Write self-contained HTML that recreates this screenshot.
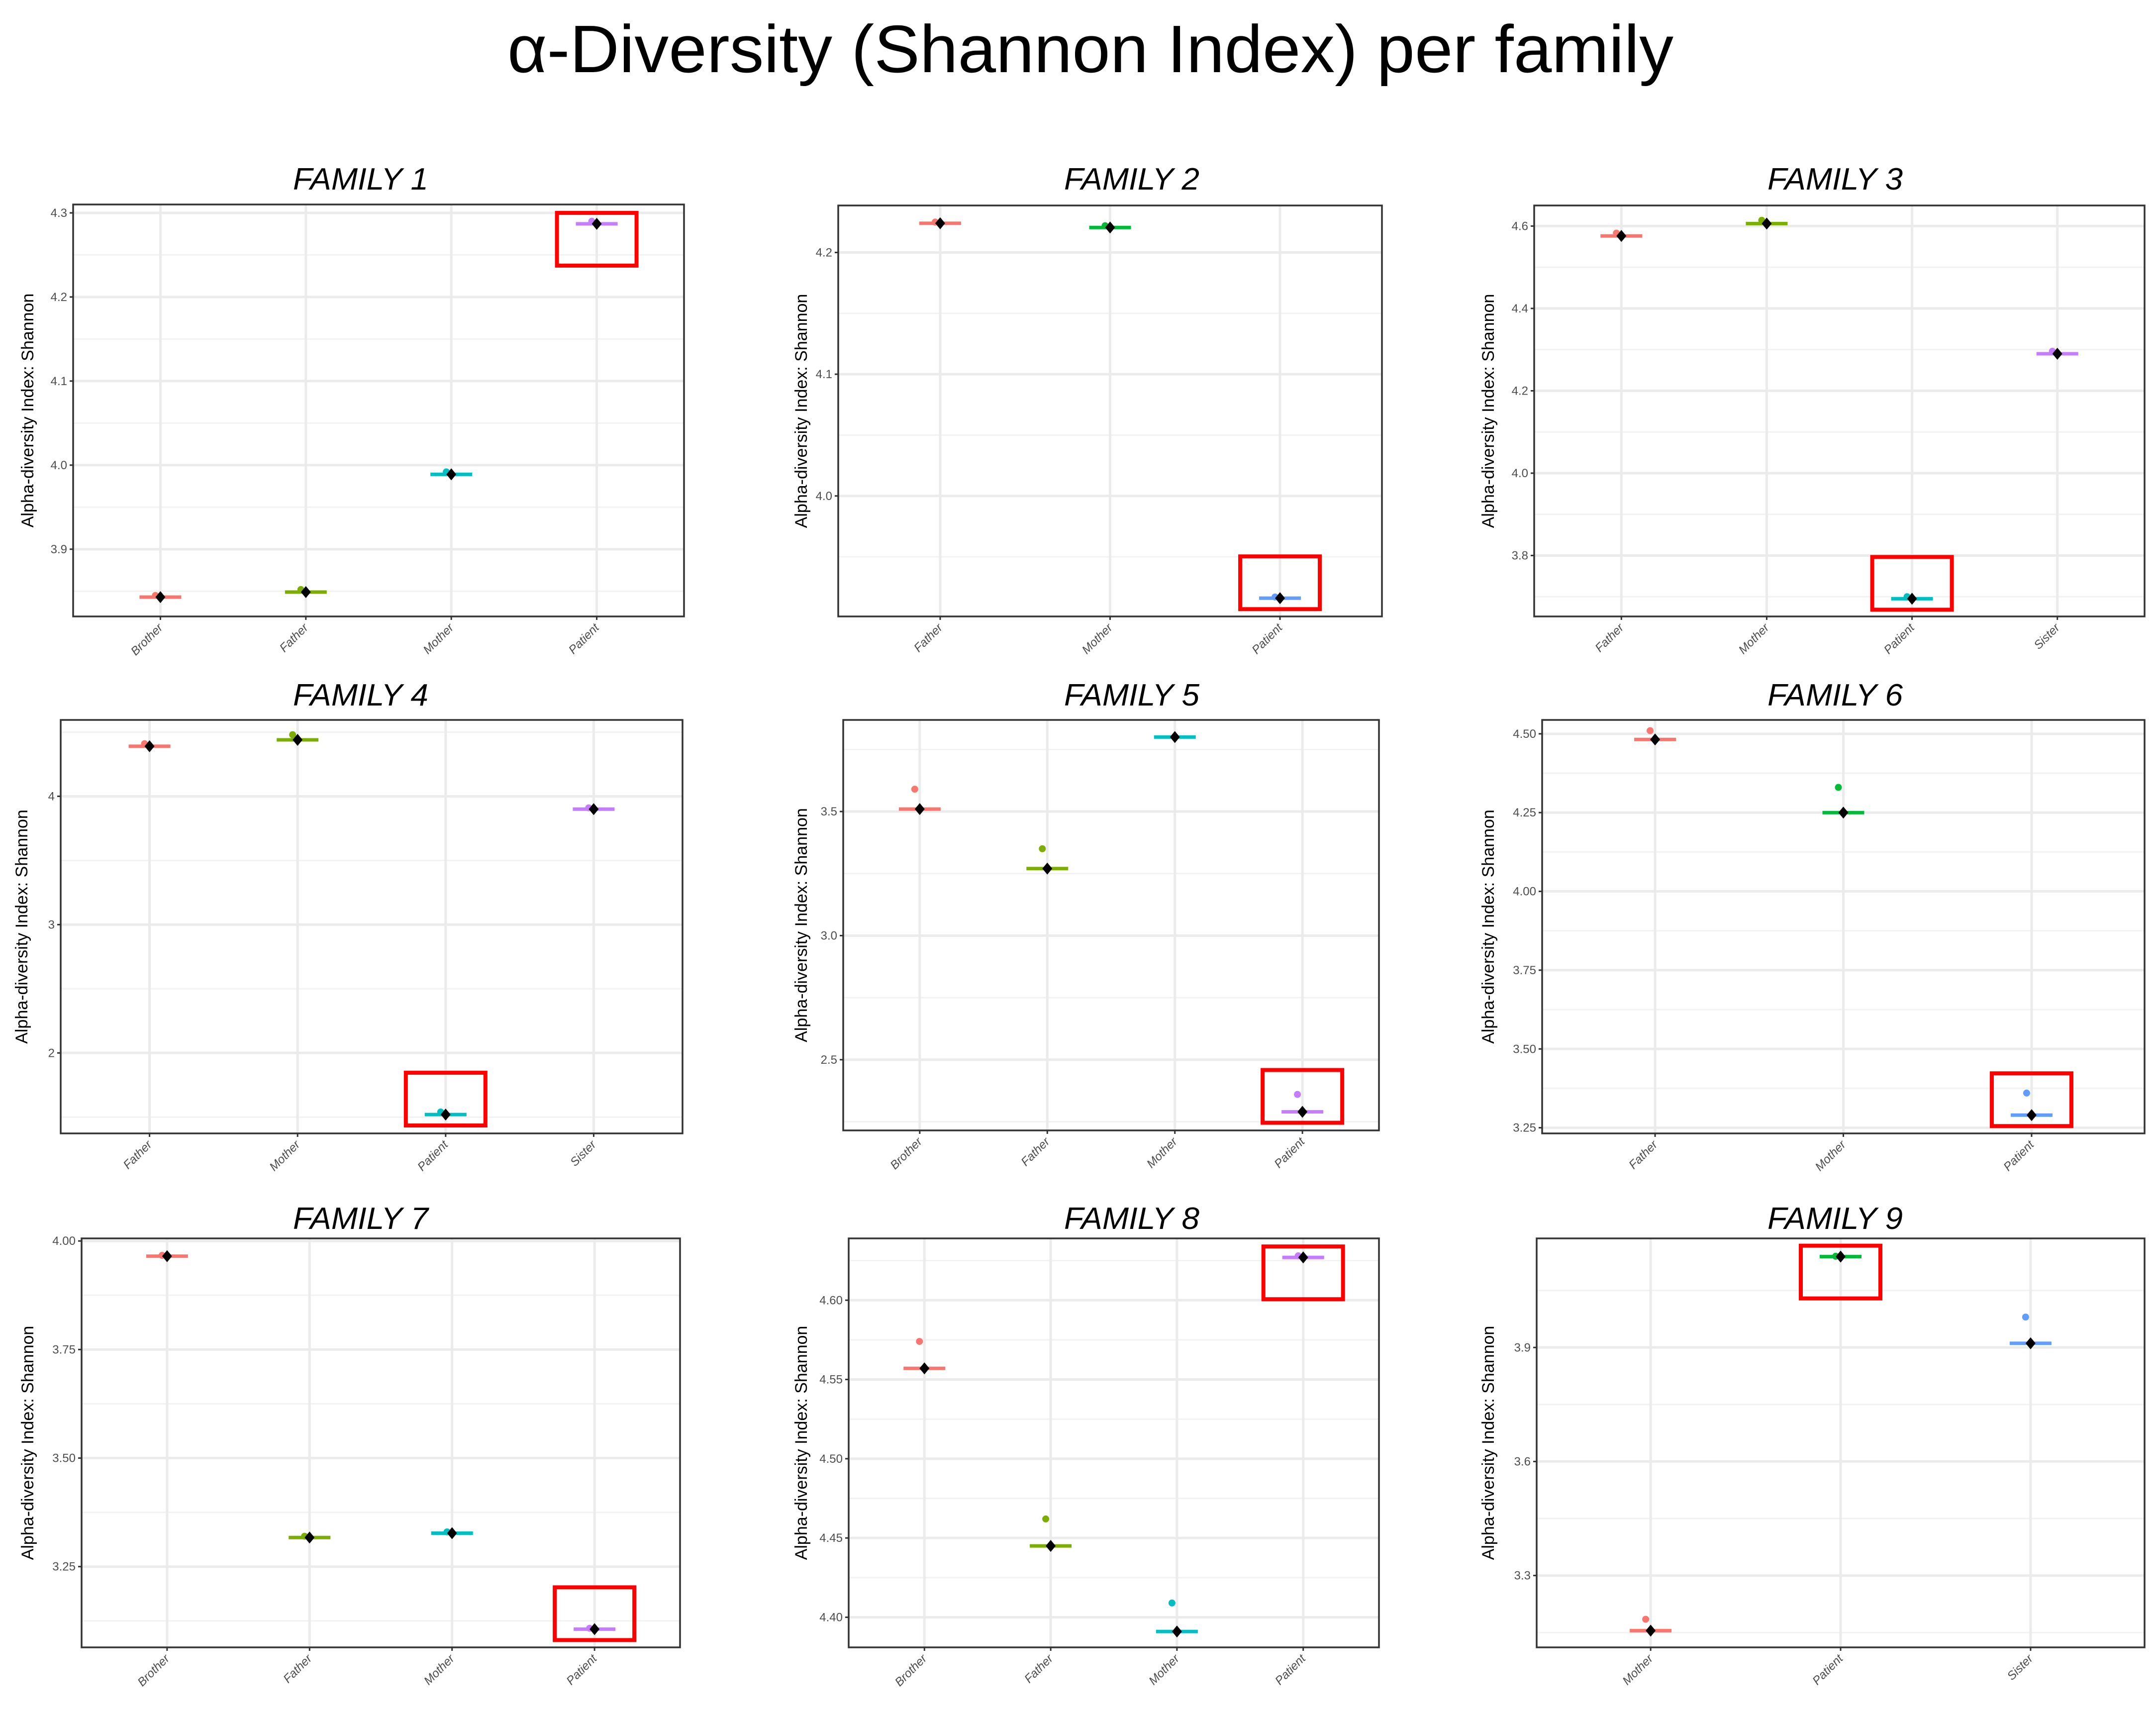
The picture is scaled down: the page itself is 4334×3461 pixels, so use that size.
<!DOCTYPE html>
<html><head><meta charset="utf-8">
<style>
html,body{margin:0;padding:0;background:#fff;}
svg{display:block;}
</style></head>
<body>
<svg id="fig" xmlns="http://www.w3.org/2000/svg" width="4334" height="3461" viewBox="0 0 4334 3461">
<rect x="0" y="0" width="4334" height="3461" fill="#fff"/>
<text x="2192" y="145" text-anchor="middle" font-family="Liberation Sans, sans-serif" font-size="135" textLength="2344" lengthAdjust="spacingAndGlyphs" fill="#000">α-Diversity (Shannon Index) per family</text>
<g id="panels"></g>
</svg>
<script>
// ---- data ----
const familyTitles = ["FAMILY 1","FAMILY 2","FAMILY 3","FAMILY 4","FAMILY 5","FAMILY 6","FAMILY 7","FAMILY 8","FAMILY 9"];
const cats1 = ["Brother","Father","Mother","Patient"];
const cats2 = ["Father","Mother","Patient"];
const cats3 = ["Father","Mother","Patient","Sister"];
const cats4 = ["Father","Mother","Patient","Sister"];
const cats5 = ["Brother","Father","Mother","Patient"];
const cats6 = ["Father","Mother","Patient"];
const cats7 = ["Brother","Father","Mother","Patient"];
const cats8 = ["Brother","Father","Mother","Patient"];
const cats9 = ["Mother","Patient","Sister"];
const means1 = [3.843, 3.849, 3.989, 4.287];
const means2 = [4.224, 4.2205, 3.916];
const means3 = [4.576, 4.606, 3.695, 4.29];
const means4 = [4.39, 4.44, 1.52, 3.90];
const means5 = [3.51, 3.27, 3.80, 2.29];
const means6 = [4.482, 4.25, 3.29];
const means7 = [3.965, 3.317, 3.327, 3.106];
const means8 = [4.557, 4.445, 4.391, 4.627];
const means9 = [3.155, 4.139, 3.911];
const points1 = [3.845, 3.852, 3.992, 4.29];
const points2 = [4.225, 4.222, 3.917];
const points3 = [4.583, 4.614, 3.70, 4.296];
const points4 = [4.41, 4.48, 1.54, 3.91];
const points5 = [3.59, 3.35, 3.88, 2.36];
const points6 = [4.51, 4.33, 3.36];
const points7 = [3.967, 3.32, 3.33, 3.108];
const points8 = [4.574, 4.462, 4.409, 4.628];
const points9 = [3.185, 4.14, 3.98];
const ticks1 = [3.9, 4.0, 4.1, 4.2, 4.3];
const ticks2 = [4.0, 4.1, 4.2];
const ticks3 = [3.8, 4.0, 4.2, 4.4, 4.6];
const ticks4 = [2, 3, 4];
const ticks5 = [2.5, 3.0, 3.5];
const ticks6 = [3.25, 3.50, 3.75, 4.00, 4.25, 4.50];
const ticks7 = [3.25, 3.50, 3.75, 4.00];
const ticks8 = [4.40, 4.45, 4.50, 4.55, 4.60];
const ticks9 = [3.3, 3.6, 3.9];
const tickLabels1 = ["3.9","4.0","4.1","4.2","4.3"];
const tickLabels2 = ["4.0","4.1","4.2"];
const tickLabels3 = ["3.8","4.0","4.2","4.4","4.6"];
const tickLabels4 = ["2","3","4"];
const tickLabels5 = ["2.5","3.0","3.5"];
const tickLabels6 = ["3.25","3.50","3.75","4.00","4.25","4.50"];
const tickLabels7 = ["3.25","3.50","3.75","4.00"];
const tickLabels8 = ["4.40","4.45","4.50","4.55","4.60"];
const tickLabels9 = ["3.3","3.6","3.9"];
const yDomain1 = [3.82, 4.31];
const yDomain2 = [3.901, 4.2386];
const yDomain3 = [3.652, 4.65];
const yDomain4 = [1.373, 4.595];
const yDomain5 = [2.215, 3.869];
const yDomain6 = [3.232, 4.544];
const yDomain7 = [3.064, 4.006];
const yDomain8 = [4.381, 4.639];
const yDomain9 = [3.111, 4.187];
const highlighted = ["Patient","Patient","Patient","Patient","Patient","Patient","Patient","Patient","Patient"];

// ---- layout ----
const panelRects = [
  [147,411,1375,1239],[1685,413,2778,1239],[3084,413,4311,1239],
  [122,1447,1372,2278],[1695,1447,2772,2272],[3100,1447,4311,2278],
  [164,2489,1367,3311],[1706,2489,2772,3311],[3089,2489,4311,3311]
];
const titleX = [725,2275,3689,725,2275,3689,725,2275,3689];
const titleY = [381,381,381,1418,1418,1418,2470,2470,2470];
const ylabX = [67,1622,3003,55,1622,3003,67,1622,3003];
const pal4 = ["#F8766D","#7CAE00","#00BFC4","#C77CFF"];
const pal3 = ["#F8766D","#00BA38","#619CFF"];

const allCats=[cats1,cats2,cats3,cats4,cats5,cats6,cats7,cats8,cats9];
const allMeans=[means1,means2,means3,means4,means5,means6,means7,means8,means9];
const allPts=[points1,points2,points3,points4,points5,points6,points7,points8,points9];
const allTicks=[ticks1,ticks2,ticks3,ticks4,ticks5,ticks6,ticks7,ticks8,ticks9];
const allTL=[tickLabels1,tickLabels2,tickLabels3,tickLabels4,tickLabels5,tickLabels6,tickLabels7,tickLabels8,tickLabels9];
const allDom=[yDomain1,yDomain2,yDomain3,yDomain4,yDomain5,yDomain6,yDomain7,yDomain8,yDomain9];

const NS="http://www.w3.org/2000/svg";
function mk(tag, attrs, parent){const e=document.createElementNS(NS,tag);for(const k in attrs)e.setAttribute(k,attrs[k]);parent.appendChild(e);return e;}
const root=document.getElementById('panels');

for(let p=0;p<9;p++){
  const [x0,y0,x1,y1]=panelRects[p];
  const cats=allCats[p], means=allMeans[p], pts=allPts[p], ticks=allTicks[p], tl=allTL[p], dom=allDom[p];
  const n=cats.length;
  const pal = n===4?pal4:pal3;
  const g=mk('g',{},root);
  
  
  const xScale=i=>x0+(x1-x0)*(i+0.6)/(n+0.2);
  const yScale=v=>y1-(v-dom[0])/(dom[1]-dom[0])*(y1-y0);
  // title
  const t=mk('text',{x:titleX[p],y:titleY[p],'text-anchor':'middle','font-family':'Liberation Sans, sans-serif','font-style':'italic','font-size':62,textLength:272,lengthAdjust:'spacingAndGlyphs',fill:'#000'},g);
  t.textContent=familyTitles[p];
  
  
  // minor grid
  for(let i=0;i<ticks.length+1;i++){
    const step = ticks.length>1?ticks[1]-ticks[0]:0.5;
    const mv = (i<ticks.length?ticks[i]:ticks[ticks.length-1]+step)-step/2;
    const yy=yScale(mv);
    if(yy>y0+2&&yy<y1-2){
      const l=mk('line',{x1:x0,x2:x1,y1:yy,y2:yy,stroke:'#f2f2f2','stroke-width':3},g);
      
      
    }
  }
  // major grid + ticks
  ticks.forEach((v,i)=>{
    const yy=yScale(v);
    const l=mk('line',{x1:x0,x2:x1,y1:yy,y2:yy,stroke:'#ebebeb','stroke-width':5},g);
    
    
    mk('line',{x1:x0-7,x2:x0,y1:yy,y2:yy,stroke:'#333','stroke-width':3},g);
    const tx=mk('text',{x:x0-12,y:yy+8,'text-anchor':'end','font-family':'Liberation Sans, sans-serif','font-size':24,fill:'#4d4d4d'},g);
    tx.textContent=tl[i];
    
    
  });
  cats.forEach((c,i)=>{
    const xx=xScale(i);
    const l=mk('line',{x1:xx,x2:xx,y1:y0,y2:y1,stroke:'#ebebeb','stroke-width':5},g);
    
    
    mk('line',{x1:xx,x2:xx,y1:y1,y2:y1+7,stroke:'#333','stroke-width':3},g);
    const tx=mk('text',{x:xx+6,y:y1+24,'text-anchor':'end','font-family':'Liberation Sans, sans-serif','font-style':'italic','font-size':24,fill:'#4d4d4d',transform:'rotate(-45 '+(xx+6)+' '+(y1+24)+')'},g);
    tx.textContent=c;
    
    
  });
  // clip marks to panel
  const cid='clip'+p;
  const cp=mk('clipPath',{id:cid},g);
  mk('rect',{x:x0,y:y0,width:x1-x0,height:y1-y0},cp);
  const mg=mk('g',{'clip-path':'url(#'+cid+')'},g);
  cats.forEach((c,i)=>{
    const xx=xScale(i);
    const dot=mk('circle',{cx:xx-10,cy:yScale(pts[i]),r:7,fill:pal[i]},mg);
    
    
    const ym=yScale(means[i]);
    const bar=mk('line',{x1:xx-42,x2:xx+42,y1:ym,y2:ym,stroke:pal[i],'stroke-width':7},mg);
    
    
    const d=mk('polygon',{points:`${xx},${ym-12} ${xx+10},${ym} ${xx},${ym+12} ${xx-10},${ym}`,fill:'#000'},mg);
    
    
  });
  // highlight box around patient
  const hi=cats.indexOf(highlighted[p]);
  if(hi>=0){
    const xx=xScale(hi), ym=yScale(means[hi]);
    const topIsNear = (ym-y0) < (y1-ym);
    let by0, by1;
    if(topIsNear){ by0=Math.max(y0+3,ym-22); by1=by0+106; }
    else { by1=Math.min(y1-8,ym+22); by0=by1-106; }
    const r=mk('rect',{x:xx-80,y:by0,width:160,height:by1-by0,fill:'none',stroke:'#ff0000','stroke-width':8},g);
    
    
  }
  // border
  const b=mk('rect',{x:x0,y:y0,width:x1-x0,height:y1-y0,fill:'none',stroke:'#333','stroke-width':3.5},g);
  
  
  // y label
  const cy=(y0+y1)/2;
  const yl=mk('text',{x:ylabX[p],y:cy,'text-anchor':'middle','font-family':'Liberation Sans, sans-serif','font-size':34,fill:'#000',transform:'rotate(-90 '+ylabX[p]+' '+cy+')'},g);
  yl.textContent='Alpha-diversity Index: Shannon';
  
  
}
</script>
</body></html>
